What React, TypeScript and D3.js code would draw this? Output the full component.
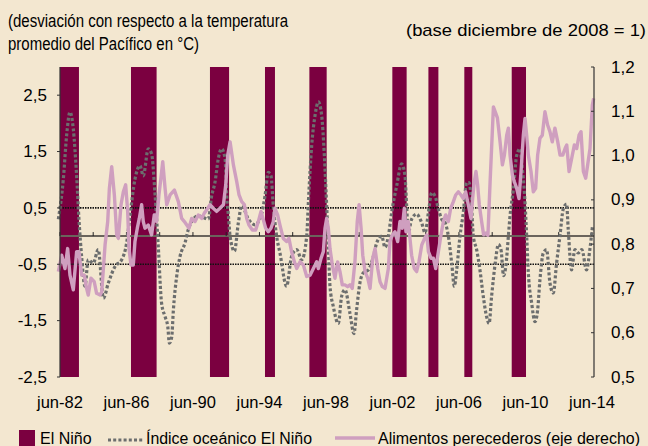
import React from 'react';
import * as d3 from 'd3';

// El Niño episodes (decimal years)
const ninoStart = [1982.42, 1986.69, 1991.44, 1994.75, 1997.42, 2002.41, 2004.58, 2006.74, 2009.59];
const ninoEnd = [1983.56, 1988.23, 1992.59, 1995.35, 1998.46, 2003.27, 2005.18, 2007.22, 2010.45];

// Índice oceánico El Niño (°C)
const oniSeries: [number, number][] = [
  [1982.32, 0.3], [1982.62, 1.01], [1982.82, 1.79], [1983.02, 2.2], [1983.22, 1.9], [1983.42, 1.07],
  [1983.56, 0.3], [1983.72, -0.36], [1983.92, -0.89], [1984.12, -0.42], [1984.42, -0.48], [1984.72, -0.24],
  [1985.03, -1.1], [1985.33, -0.83], [1985.73, -0.54], [1986.13, -0.42], [1986.43, -0.12], [1986.63, 0.36],
  [1986.93, 1.01], [1987.23, 1.25], [1987.43, 1.07], [1987.73, 1.55], [1987.93, 1.46], [1988.13, 0.77],
  [1988.33, -0.18], [1988.53, -1.19], [1988.74, -1.43], [1988.9, -1.6], [1989.0, -1.9], [1989.14, -1.79],
  [1989.24, -1.31], [1989.44, -0.71], [1989.64, -0.36], [1989.94, -0.12], [1990.14, 0.12], [1990.44, 0.3],
  [1990.74, 0.36], [1991.04, 0.33], [1991.34, 0.3], [1991.54, 0.71], [1991.74, 0.95], [1991.94, 1.37],
  [1992.14, 1.55], [1992.35, 1.37], [1992.45, 0.71], [1992.55, 0.36], [1992.65, 0.0], [1992.91, -0.27],
  [1993.15, 0.24], [1993.35, 0.54], [1993.75, 0.3], [1994.15, 0.2], [1994.55, 0.4], [1994.75, 0.71],
  [1994.95, 1.13], [1995.11, 1.07], [1995.25, 0.54], [1995.45, 0.0], [1995.65, -0.3], [1996.05, -0.89],
  [1996.35, -0.36], [1996.66, -0.24], [1996.96, -0.42], [1997.26, 0.0], [1997.36, 0.6], [1997.56, 1.61],
  [1997.76, 2.14], [1997.96, 2.38], [1998.16, 2.14], [1998.32, 1.43], [1998.46, 0.54], [1998.56, -0.18],
  [1998.66, -0.89], [1998.86, -1.25], [1999.16, -1.55], [1999.36, -1.07], [1999.56, -0.95], [1999.86, -1.37],
  [2000.1, -1.73], [2000.26, -1.31], [2000.46, -0.83], [2000.67, -0.65], [2000.97, -0.6], [2001.27, -0.36],
  [2001.47, -0.12], [2001.77, 0.0], [2001.97, -0.2], [2002.17, 0.0], [2002.37, 0.42], [2002.67, 0.89],
  [2002.97, 1.28], [2003.17, 1.07], [2003.27, 0.54], [2003.37, 0.06], [2003.57, 0.3], [2003.87, 0.39],
  [2004.17, 0.24], [2004.38, 0.06], [2004.58, 0.42], [2004.78, 0.77], [2004.98, 0.71], [2005.18, 0.48],
  [2005.38, 0.3], [2005.58, 0.24], [2005.78, 0.0], [2005.98, -0.48], [2006.14, -0.89], [2006.28, -0.6],
  [2006.48, 0.0], [2006.68, 0.42], [2006.88, 0.95], [2007.02, 0.95], [2007.14, 0.71], [2007.28, 0.0],
  [2007.48, -0.24], [2007.68, -0.6], [2007.88, -1.07], [2008.08, -1.43], [2008.23, -1.55], [2008.38, -1.07],
  [2008.59, -0.5], [2008.79, -0.15], [2008.95, -0.25], [2009.1, -0.7], [2009.25, -0.5], [2009.39, 0.0],
  [2009.49, 0.36], [2009.69, 0.83], [2009.89, 1.43], [2010.09, 1.55], [2010.19, 1.31], [2010.39, 0.6],
  [2010.49, 0.0], [2010.59, -0.65], [2010.79, -1.19], [2010.99, -1.52], [2011.15, -1.31], [2011.29, -0.77],
  [2011.49, -0.3], [2011.69, -0.24], [2011.89, -0.83], [2012.09, -1.01], [2012.29, -0.48], [2012.49, 0.0],
  [2012.69, 0.48], [2012.89, 0.57], [2012.99, 0.12], [2013.19, -0.6], [2013.39, -0.24], [2013.59, -0.3],
  [2013.81, -0.24], [2014.09, -0.6], [2014.29, -0.24], [2014.45, 0.18],
];

// Alimentos perecederos (base diciembre de 2008 = 1), right axis
const foodSeries: [number, number][] = [
  [1982.32, 0.738], [1982.52, 0.775], [1982.72, 0.745], [1982.88, 0.79], [1983.02, 0.73], [1983.22, 0.697],
  [1983.42, 0.783], [1983.56, 0.783], [1983.72, 0.73], [1983.88, 0.73], [1984.02, 0.7], [1984.12, 0.685],
  [1984.28, 0.723], [1984.48, 0.715], [1984.62, 0.689], [1984.83, 0.685], [1984.93, 0.692], [1985.13, 0.798],
  [1985.29, 0.851], [1985.39, 0.926], [1985.53, 0.975], [1985.69, 0.911], [1985.83, 0.821], [1985.93, 0.813],
  [1986.09, 0.889], [1986.23, 0.918], [1986.37, 0.934], [1986.49, 0.874], [1986.57, 0.79], [1986.69, 0.753],
  [1986.83, 0.753], [1986.93, 0.806], [1987.07, 0.836], [1987.19, 0.858], [1987.33, 0.889], [1987.43, 0.851],
  [1987.53, 0.836], [1987.73, 0.843], [1987.93, 0.821], [1988.09, 0.866], [1988.23, 0.851], [1988.37, 0.911],
  [1988.49, 0.949], [1988.6, 0.986], [1988.74, 0.926], [1988.84, 0.889], [1989.04, 0.911], [1989.3, 0.922],
  [1989.54, 0.896], [1989.74, 0.858], [1989.9, 0.851], [1990.18, 0.836], [1990.34, 0.858], [1990.54, 0.851],
  [1990.74, 0.866], [1990.94, 0.858], [1991.1, 0.87], [1991.24, 0.877], [1991.44, 0.889], [1991.64, 0.881],
  [1991.84, 0.874], [1992.04, 0.881], [1992.25, 0.889], [1992.39, 0.934], [1992.51, 1.001], [1992.65, 1.031],
  [1992.85, 0.979], [1993.05, 0.941], [1993.19, 0.911], [1993.35, 0.896], [1993.51, 0.889], [1993.65, 0.858],
  [1993.79, 0.843], [1993.99, 0.832], [1994.19, 0.832], [1994.35, 0.851], [1994.51, 0.874], [1994.65, 0.855],
  [1994.79, 0.836], [1994.95, 0.828], [1995.11, 0.836], [1995.25, 0.851], [1995.35, 0.881], [1995.51, 0.866],
  [1995.65, 0.843], [1995.85, 0.813], [1996.05, 0.806], [1996.19, 0.813], [1996.35, 0.783], [1996.52, 0.76],
  [1996.66, 0.745], [1996.86, 0.76], [1997.06, 0.753], [1997.26, 0.727], [1997.46, 0.73], [1997.66, 0.745],
  [1997.86, 0.76], [1997.96, 0.745], [1998.12, 0.768], [1998.26, 0.783], [1998.36, 0.836], [1998.46, 0.858],
  [1998.56, 0.836], [1998.66, 0.79], [1998.8, 0.753], [1998.96, 0.723], [1999.12, 0.76], [1999.26, 0.738],
  [1999.4, 0.708], [1999.56, 0.708], [1999.72, 0.704], [1999.86, 0.708], [2000.0, 0.7], [2000.16, 0.76],
  [2000.3, 0.851], [2000.41, 0.889], [2000.53, 0.836], [2000.63, 0.775], [2000.77, 0.738], [2000.93, 0.723],
  [2001.07, 0.7], [2001.23, 0.768], [2001.37, 0.79], [2001.53, 0.745], [2001.67, 0.715], [2001.81, 0.704],
  [2001.97, 0.7], [2002.17, 0.745], [2002.27, 0.806], [2002.41, 0.821], [2002.57, 0.828], [2002.73, 0.806],
  [2002.87, 0.851], [2003.01, 0.836], [2003.13, 0.881], [2003.23, 0.828], [2003.37, 0.851], [2003.47, 0.813],
  [2003.57, 0.775], [2003.73, 0.745], [2003.87, 0.738], [2004.01, 0.76], [2004.18, 0.798], [2004.35, 0.813],
  [2004.48, 0.821], [2004.58, 0.783], [2004.74, 0.768], [2004.88, 0.768], [2005.02, 0.745], [2005.18, 0.783],
  [2005.34, 0.821], [2005.48, 0.851], [2005.62, 0.866], [2005.78, 0.851], [2005.92, 0.881], [2006.08, 0.896],
  [2006.22, 0.911], [2006.38, 0.918], [2006.54, 0.911], [2006.68, 0.903], [2006.82, 0.918], [2006.98, 0.889],
  [2007.14, 0.858], [2007.24, 0.903], [2007.34, 0.941], [2007.44, 0.964], [2007.54, 0.934], [2007.64, 0.889],
  [2007.78, 0.851], [2007.9, 0.821], [2008.04, 0.825], [2008.16, 0.82], [2008.29, 0.94], [2008.42, 1.05],
  [2008.49, 1.11], [2008.59, 1.1], [2008.73, 1.085], [2008.89, 1.031], [2009.03, 0.979], [2009.15, 1.001],
  [2009.29, 1.046], [2009.39, 1.062], [2009.49, 1.001], [2009.63, 0.956], [2009.75, 0.941], [2009.89, 0.926],
  [2010.03, 0.903], [2010.15, 0.964], [2010.29, 1.046], [2010.39, 1.084], [2010.49, 1.046], [2010.59, 1.001],
  [2010.75, 0.964], [2010.89, 0.918], [2011.03, 0.926], [2011.15, 1.001], [2011.29, 1.039], [2011.43, 1.046],
  [2011.59, 1.099], [2011.75, 1.069], [2011.89, 1.054], [2012.03, 1.031], [2012.19, 1.062], [2012.36, 1.031],
  [2012.5, 1.001], [2012.66, 1.001], [2012.8, 1.016], [2012.9, 1.024], [2013.04, 0.964], [2013.2, 0.994],
  [2013.36, 1.024], [2013.5, 1.016], [2013.64, 1.046], [2013.76, 1.054], [2013.9, 0.964], [2014.04, 0.949],
  [2014.16, 0.979], [2014.3, 1.016], [2014.44, 1.114], [2014.52, 1.129],
];

const xTickYears = [1982, 1986, 1990, 1994, 1998, 2002, 2006, 2010, 2014];
const leftTicks = [2.5, 1.5, 0.5, -0.5, -1.5, -2.5];
const rightTicks = [1.2, 1.1, 1.0, 0.9, 0.8, 0.7, 0.6, 0.5];

const W = 648;
const H = 446;
const FONT = '"Liberation Sans", Arial, Helvetica, sans-serif';
const BG = '#f3e7d0';
const NINO = '#7b0040';
const FOOD = '#cf9fbf';
const ONI = '#6c6e6e';

const comma = (v: number) => v.toFixed(1).replace('.', ',');

export default function App() {
  const x = d3.scaleLinear().domain([1982.42, 2014.54]).range([60, 594]);
  const yL = d3.scaleLinear().domain([-2.5, 3.0]).range([377, 67]);
  const yR = d3.scaleLinear().domain([0.5, 1.2]).range([377, 67]);

  const oniLine = d3
    .line<[number, number]>()
    .x((d) => x(d[0]))
    .y((d) => yL(d[1]))
    .curve(d3.curveMonotoneX);
  const foodLine = d3
    .line<[number, number]>()
    .x((d) => x(d[0]))
    .y((d) => yR(d[1]));

  const june = (yr: number) => yr + 5 / 12;
  const minorTicks = d3.range(1982, 2015, 2).map(june);

  return (
    <svg
      width={W}
      height={H}
      style={{ position: 'absolute', left: 0, top: 0, background: BG }}
      fontFamily={FONT}
    >
      <rect width={W} height={H} fill={BG} />

      {/* titles */}
      <text x={8} y={27} fontSize={17.5} textLength={280} lengthAdjust="spacingAndGlyphs">
        (desviación con respecto a la temperatura
      </text>
      <text x={8} y={50} fontSize={17.5} textLength={191} lengthAdjust="spacingAndGlyphs">
        promedio del Pacífico en °C)
      </text>
      <text x={406} y={36} fontSize={17} textLength={240} lengthAdjust="spacingAndGlyphs">
        (base diciembre de 2008 = 1)
      </text>

      {/* El Niño bars */}
      {ninoStart.map((s, i) => (
        <rect
          key={i}
          x={x(s)}
          y={yL(3.0)}
          width={x(ninoEnd[i]) - x(s)}
          height={yL(-2.5) - yL(3.0)}
          fill={NINO}
        />
      ))}

      {/* reference lines */}
      {[0.5, -0.5].map((v) => (
        <line
          key={v}
          x1={60}
          x2={594}
          y1={yL(v)}
          y2={yL(v)}
          stroke="#111"
          strokeWidth={1.6}
          strokeDasharray="1.5 1"
        />
      ))}
      <line x1={60} x2={594} y1={yL(0)} y2={yL(0)} stroke="#6a645c" strokeWidth={2} />
      {minorTicks.map((t) => (
        <line key={t} x1={x(t)} x2={x(t)} y1={yL(0)} y2={yL(0) - 4} stroke="#222" strokeWidth={1} />
      ))}

      {/* series */}
      <path
        d={oniLine(oniSeries) ?? ''}
        fill="none"
        stroke={ONI}
        strokeWidth={3.2}
        strokeDasharray="3 2.2"
      />
      <path d={foodLine(foodSeries) ?? ''} fill="none" stroke={FOOD} strokeWidth={3.4} strokeLinejoin="round" />

      {/* left axis */}
      <line x1={60} x2={60} y1={67} y2={377} stroke="#333" strokeWidth={1.2} />
      {leftTicks.map((t) => (
        <g key={t} transform={`translate(0,${yL(t)})`}>
          <line x1={57} x2={60} stroke="#333" />
          <text x={47} dy="0.33em" textAnchor="end" fontSize={17}>
            {comma(t)}
          </text>
        </g>
      ))}

      {/* right axis */}
      <line x1={594} x2={594} y1={67} y2={377} stroke="#333" strokeWidth={1.2} />
      {rightTicks.map((t) => (
        <g key={t} transform={`translate(0,${yR(t)})`}>
          <line x1={591} x2={594} stroke="#333" />
          <text x={611} dy="0.33em" fontSize={17}>
            {comma(t)}
          </text>
        </g>
      ))}

      {/* x labels */}
      {xTickYears.map((yr) => (
        <text key={yr} x={x(june(yr))} y={408} textAnchor="middle" fontSize={16.5}>
          {`jun-${String(yr).slice(2)}`}
        </text>
      ))}

      {/* legend */}
      <rect x={19} y={430} width={16} height={16} fill={NINO} />
      <text x={40} y={444} fontSize={16}>
        El Niño
      </text>
      <line x1={108} x2={143} y1={440} y2={440} stroke={ONI} strokeWidth={3.2} strokeDasharray="3 2.2" />
      <text x={146} y={444} fontSize={16} textLength={166} lengthAdjust="spacingAndGlyphs">
        Índice oceánico El Niño
      </text>
      <line x1={335} x2={375} y1={438} y2={438} stroke={FOOD} strokeWidth={3.4} />
      <text x={378} y={444} fontSize={16} textLength={262} lengthAdjust="spacingAndGlyphs">
        Alimentos perecederos (eje derecho)
      </text>
    </svg>
  );
}
